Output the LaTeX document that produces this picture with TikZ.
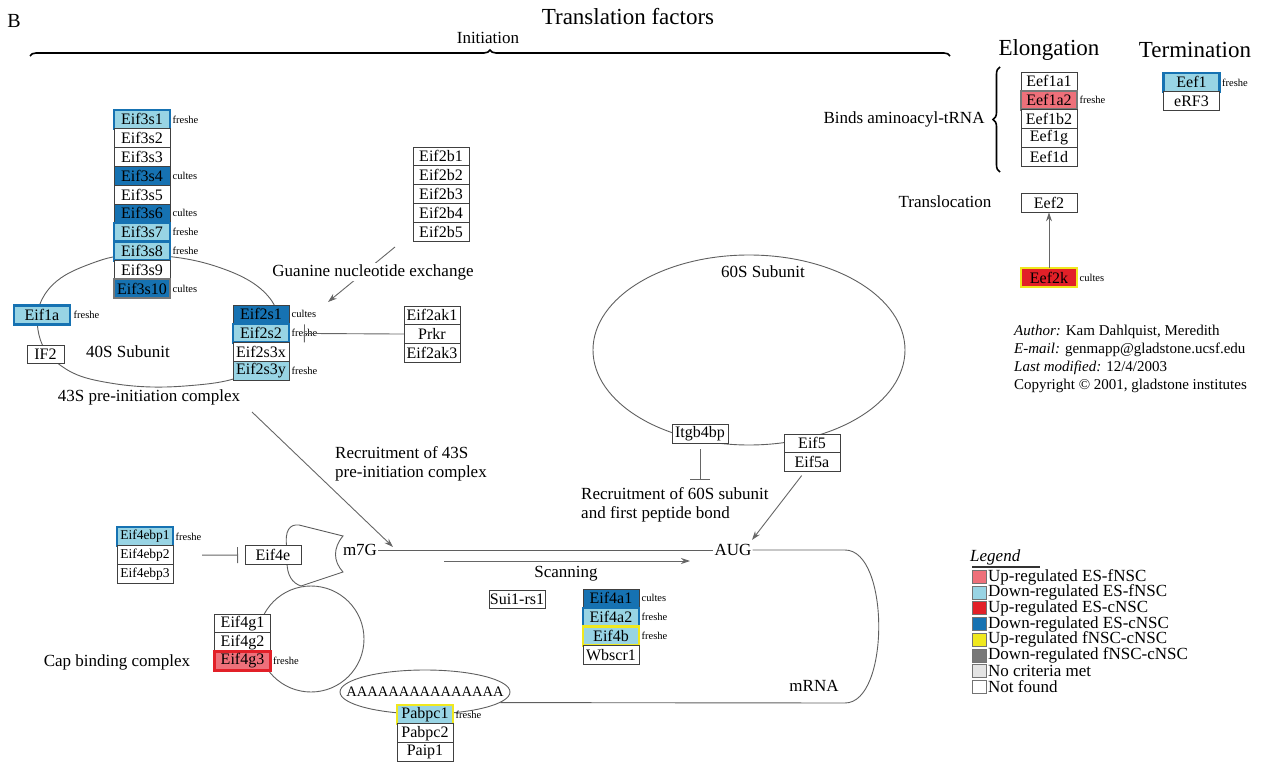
\documentclass[tikz,border=0pt]{standalone}
\usepackage{fontspec}
\setmainfont{Liberation Serif}
\usetikzlibrary{positioning,arrows.meta,shapes.geometric,decorations.pathreplacing}

\definecolor{upfes}{RGB}{238,112,122}
\definecolor{downfes}{RGB}{152,212,228}
\definecolor{upces}{RGB}{226,32,40}
\definecolor{downces}{RGB}{22,114,178}
\definecolor{upfc}{RGB}{240,232,30}
\definecolor{downfc}{RGB}{120,120,120}
\definecolor{nocrit}{RGB}{228,228,228}
\definecolor{ringgray}{RGB}{95,95,95}

\begin{document}
\begin{tikzpicture}[x=1pt,y=-1pt,node distance=18.8pt,
  gene node/.style={rectangle,draw=black!75,fill=white,line width=0.9pt,
    minimum width=56pt,minimum height=18.8pt,inner sep=0pt,outer sep=0pt,
    font=\fontsize{16}{18}\selectfont},
  dual node/.style 2 args={fill=#1,draw=#2,line width=2.4pt},
  tag node/.style={inner sep=0.5pt,font=\fontsize{10.5}{12}\selectfont},
  text node/.style={inner sep=1pt,font=\fontsize{17}{19}\selectfont},
  head node/.style={inner sep=1pt,font=\fontsize{23}{26}\selectfont},
  conn/.style={draw=black!60,line width=0.9pt},
  sub line/.style={draw=ringgray,line width=0.9pt},
  swatch/.style={draw=black!55,line width=1pt,minimum width=14pt,
    minimum height=13pt,inner sep=0pt}]

  \useasboundingbox (0,0) rectangle (1262,767);

  % headings
  \node[inner sep=0pt,font=\fontsize{20}{22}\selectfont] (panel) at (14,21) {B};
  \node[head node] (title) at (628,17) {Translation factors};
  \node[text node] (init) at (488,38) {Initiation};
  \node[head node] (elong) at (1049,50) {Elongation};
  \node[head node] (term) at (1195,50) {Termination};
  \draw[decorate,decoration={brace,amplitude=6pt},line width=1.6pt] (30,56) -- (950,56);

  % ribosome subunits and cap binding complex
  \draw[sub line] plot[smooth cycle,tension=0.7] coordinates {(142,255) (215,266)
    (268,296) (275,335) (250,372) (185,386) (110,383) (60,365) (38,330) (48,290) (90,264)};
  \draw[sub line] (749,350) ellipse [x radius=156pt,y radius=95pt];
  \draw[sub line] (311,639) circle [radius=53pt];
  \draw[sub line] (287,549) .. controls (284,530) and (290,524) .. (299,525) -- (343,536)
    .. controls (333,548) and (333,561) .. (343,572) -- (301,586)
    .. controls (292,583) and (287,575) .. (287,562);
  \node[sub line,draw,ellipse,minimum width=170pt,minimum height=44pt] (polyA) at (425,692) {};
  \node[inner sep=0pt,font=\fontsize{14.5}{16}\selectfont] (polytxt) at (polyA) {AAAAAAAAAAAAAAA};

  % guanine nucleotide exchange
  \coordinate (g1) at (395,247);
  \coordinate (g2) at (328,302);
  \draw[conn,-{Stealth[length=9pt,width=6pt]}] (g1) -- (g2);
  \node[text node,fill=white] (gne) at (373,272) {Guanine nucleotide exchange};

  % Eif3 complex
  \node[gene node,dual node={downfes}{downces}] (e3s1) at (142,119.4) {Eif3s1};
  \node[gene node] (e3s2) [below of=e3s1] {Eif3s2};
  \node[gene node] (e3s3) [below of=e3s2] {Eif3s3};
  \node[gene node,fill=downces] (e3s4) [below of=e3s3] {Eif3s4};
  \node[gene node] (e3s5) [below of=e3s4] {Eif3s5};
  \node[gene node,fill=downces] (e3s6) [below of=e3s5] {Eif3s6};
  \node[gene node,dual node={downfes}{downces}] (e3s7) [below of=e3s6] {Eif3s7};
  \node[gene node,dual node={downfes}{downces}] (e3s8) [below of=e3s7] {Eif3s8};
  \node[gene node] (e3s9) [below of=e3s8] {Eif3s9};
  \node[gene node,dual node={downces}{downfc}] (e3s10) [below of=e3s9] {Eif3s10};
  \node[tag node] (t3s1) [right=2pt of e3s1] {freshe};
  \node[tag node] (t3s4) [right=2pt of e3s4] {cultes};
  \node[tag node] (t3s6) [right=2pt of e3s6] {cultes};
  \node[tag node] (t3s7) [right=2pt of e3s7] {freshe};
  \node[tag node] (t3s8) [right=2pt of e3s8] {freshe};
  \node[tag node] (t3s10) [right=2pt of e3s10] {cultes};

  % 40S subunit
  \node[gene node,dual node={downfes}{downces}] (eif1a) at (42,315) {Eif1a};
  \node[tag node] (t1a) [right=3pt of eif1a] {freshe};
  \node[gene node,minimum width=37pt] (if2) at (45.5,354.5) {IF2};
  \node[text node] (s40) at (128,352) {40S Subunit};
  \node[text node] (c43) at (149,397) {43S pre-initiation complex};

  % Eif2 complex
  \node[gene node,fill=downces] (e2s1) at (261,314.4) {Eif2s1};
  \node[gene node,dual node={downfes}{downces}] (e2s2) [below of=e2s1] {Eif2s2};
  \node[gene node] (e2s3x) [below of=e2s2] {Eif2s3x};
  \node[gene node,fill=downfes] (e2s3y) [below of=e2s3x] {Eif2s3y};
  \node[tag node] (t2s1) [right=2pt of e2s1] {cultes};
  \node[tag node] (t2s2) [right=2pt of e2s2] {freshe};
  \node[tag node] (t2s3y) [right=2pt of e2s3y] {freshe};

  \node[gene node] (e2b1) at (441,156.4) {Eif2b1};
  \node[gene node] (e2b2) [below of=e2b1] {Eif2b2};
  \node[gene node] (e2b3) [below of=e2b2] {Eif2b3};
  \node[gene node] (e2b4) [below of=e2b3] {Eif2b4};
  \node[gene node] (e2b5) [below of=e2b4] {Eif2b5};

  \node[gene node] (ak1) at (432,315.4) {Eif2ak1};
  \node[gene node] (prkr) [below of=ak1] {Prkr};
  \node[gene node] (ak3) [below of=prkr] {Eif2ak3};

  % elongation and termination
  \node[gene node] (ef1a1) at (1049,81.4) {Eef1a1};
  \node[gene node,dual node={upfes}{downfc}] (ef1a2) [below of=ef1a1] {Eef1a2};
  \node[gene node] (ef1b2) [below of=ef1a2] {Eef1b2};
  \node[gene node] (ef1g) [below of=ef1b2] {Eef1g};
  \node[gene node] (ef1d) [below of=ef1g] {Eef1d};
  \node[tag node] (tef1a2) [right=2pt of ef1a2] {freshe};
  \node[text node] (binds) at (904,119) {Binds aminoacyl-tRNA};
  \draw[decorate,decoration={brace,amplitude=7pt},line width=1.6pt] (1000,172) -- (1000,67);

  \node[gene node,dual node={downfes}{downces}] (eef1) at (1191.5,82.4) {Eef1};
  \node[gene node] (erf3) [below of=eef1] {eRF3};
  \node[tag node] (teef1) [right=2pt of eef1] {freshe};

  \node[text node] (transl) at (945,202) {Translocation};
  \node[gene node] (eef2) at (1049,203) {Eef2};
  \node[gene node,dual node={upces}{upfc}] (eef2k) at (1049,277.5) {Eef2k};
  \node[tag node] (teef2k) [right=2pt of eef2k] {cultes};

  % 60S subunit
  \node[text node] (s60) at (763,272) {60S Subunit};
  \node[gene node] (itg) at (700,434) {Itgb4bp};
  \node[gene node] (eif5) at (812,443.4) {Eif5};
  \node[gene node] (eif5a) [below of=eif5] {Eif5a};
  \node[text node,anchor=west,align=left] (rec60) at (580,504.5) {Recruitment of 60S subunit\\and first peptide bond};
  \node[text node,anchor=west,align=left] (rec43) at (334,463.5) {Recruitment of 43S\\pre-initiation complex};

  % mRNA
  \node[text node] (m7g) at (360,550) {m7G};
  \node[text node] (aug) at (733,550) {AUG};
  \node[text node] (scan) at (566,574) {Scanning};
  \node[text node] (mrna) at (814,686) {mRNA};

  % cap binding complex
  \node[gene node,dual node={downfes}{downces},font=\fontsize{13.5}{15}\selectfont] (ebp1) at (145,536.4) {Eif4ebp1};
  \node[gene node,font=\fontsize{13.5}{15}\selectfont] (ebp2) [below of=ebp1] {Eif4ebp2};
  \node[gene node,font=\fontsize{13.5}{15}\selectfont] (ebp3) [below of=ebp2] {Eif4ebp3};
  \node[tag node] (tebp1) [right=2pt of ebp1] {freshe};
  \node[gene node] (eif4e) at (273,555) {Eif4e};

  \node[gene node] (e4g1) at (242.5,623.4) {Eif4g1};
  \node[gene node] (e4g2) [below of=e4g1] {Eif4g2};
  \node[gene node,dual node={upfes}{upces}] (e4g3) [below of=e4g2] {Eif4g3};
  \node[tag node] (te4g3) [right=2pt of e4g3] {freshe};
  \node[text node] (cbc) at (117,662) {Cap binding complex};

  % scanning factors
  \node[gene node] (sui) at (517,599.5) {Sui1-rs1};
  \node[gene node,fill=downces] (e4a1) at (611,598.4) {Eif4a1};
  \node[gene node,dual node={downfes}{downces}] (e4a2) [below of=e4a1] {Eif4a2};
  \node[gene node,dual node={downfes}{upfc}] (e4b) [below of=e4a2] {Eif4b};
  \node[gene node] (wbs) [below of=e4b] {Wbscr1};
  \node[tag node] (te4a1) [right=2pt of e4a1] {cultes};
  \node[tag node] (te4a2) [right=2pt of e4a2] {freshe};
  \node[tag node] (te4b) [right=2pt of e4b] {freshe};

  % poly(A) binding
  \node[gene node,dual node={downfes}{upfc}] (pab1) at (425,714.4) {Pabpc1};
  \node[gene node] (pab2) [below of=pab1] {Pabpc2};
  \node[gene node] (paip) [below of=pab2] {Paip1};
  \node[tag node] (tpab1) [right=2pt of pab1] {freshe};

  % author info
  \node[anchor=north west,align=left,inner sep=0pt,font=\fontsize{15}{18}\selectfont] (info) at (1014,325)
    {\textit{Author:} Kam Dahlquist, Meredith\\
     \textit{E-mail:} genmapp@gladstone.ucsf.edu\\
     \textit{Last modified:} 12/4/2003\\
     Copyright © 2001, gladstone institutes};

  % legend
  \node[text node,anchor=west,font=\itshape\fontsize{17}{19}\selectfont] (legend) at (969,557) {Legend};
  \draw[line width=2pt,black!80] (972,567) -- (1040,567);
  \node[swatch,fill=upfes] (k1) at (979.5,577) {};
  \node[swatch,fill=downfes] (k2) at (979.5,592.7) {};
  \node[swatch,fill=upces] (k3) at (979.5,608.4) {};
  \node[swatch,fill=downces] (k4) at (979.5,624.1) {};
  \node[swatch,fill=upfc] (k5) at (979.5,639.8) {};
  \node[swatch,fill=downfc] (k6) at (979.5,655.5) {};
  \node[swatch,fill=nocrit] (k7) at (979.5,671.2) {};
  \node[swatch,fill=white] (k8) at (979.5,686.9) {};
  \node[text node,anchor=west] (l1) [right=0pt of k1] {Up-regulated ES-fNSC};
  \node[text node,anchor=west] (l2) [right=0pt of k2] {Down-regulated ES-fNSC};
  \node[text node,anchor=west] (l3) [right=0pt of k3] {Up-regulated ES-cNSC};
  \node[text node,anchor=west] (l4) [right=0pt of k4] {Down-regulated ES-cNSC};
  \node[text node,anchor=west] (l5) [right=0pt of k5] {Up-regulated fNSC-cNSC};
  \node[text node,anchor=west] (l6) [right=0pt of k6] {Down-regulated fNSC-cNSC};
  \node[text node,anchor=west] (l7) [right=0pt of k7] {No criteria met};
  \node[text node,anchor=west] (l8) [right=0pt of k8] {Not found};

  % connectors
  \coordinate (r43a) at (252,412);
  \coordinate (r43b) at (393,547);
  \coordinate (sc1) at (444,561);
  \coordinate (sc2) at (690,561);
  \coordinate (bend1) at (845,550);
  \coordinate (bend2) at (845,703);
  \coordinate (itgbar) at (700,480);
  \coordinate (augin) at (752,540);

  \draw[conn,-{Bar[width=18pt]},shorten >=15pt] (prkr) -- (e2s2);
  \draw[conn,-{Stealth[length=9pt,width=6pt]}] (r43a) -- (r43b);
  \draw[conn,-{Bar[width=16pt]},shorten <=29pt,shorten >=7pt] (ebp2) -- (eif4e);
  \draw[conn,-{Stealth[length=9pt,width=6pt]}] (sc1) -- (sc2);
  \draw[sub line] (m7g) -- (aug);
  \draw[sub line] (aug) -- (bend1) .. controls +(45,0) and +(45,0) .. (bend2) -- (polyA.-8);
  \draw[conn,-{Bar[width=20pt]},shorten <=6pt] (itg) -- (itgbar);
  \draw[conn,-{Stealth[length=9pt,width=6pt]},shorten <=5pt] (eif5a) -- (augin);
  \draw[conn,-{Stealth[length=9pt,width=6pt]}] (eef2k) -- (eef2);
\end{tikzpicture}
\end{document}
